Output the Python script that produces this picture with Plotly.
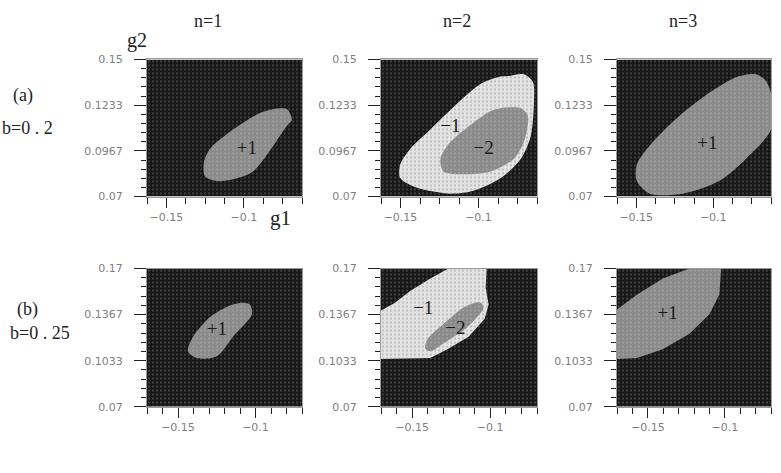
import plotly.graph_objects as go
from plotly.subplots import make_subplots

# axis ranges (g1 horizontal, g2 vertical)
g1_range_a = [-0.1625, -0.0625]
g2_range_a = [0.07, 0.15]
g1_range_b = [-0.17, -0.07]
g2_range_b = [0.07, 0.17]

g2_ticks_a = [0.07, 0.0967, 0.1233, 0.15]
g2_ticktext_a = ["0.07", "0.0967", "0.1233", "0.15"]
g2_ticks_b = [0.07, 0.1033, 0.1367, 0.17]
g2_ticktext_b = ["0.07", "0.1033", "0.1367", "0.17"]
g1_ticks = [-0.15, -0.1]
g1_ticktext = ["\u22120.15", "\u22120.1"]

# row (a) b=0.2, n=1 : region +1
a1_p1_g1 = [-0.0722, -0.0690, -0.0722, -0.0941, -0.1070, -0.1174, -0.1251, -0.1257, -0.1219, -0.1070, -0.0896, -0.0812]
a1_p1_g2 = [0.1210, 0.1148, 0.1114, 0.0847, 0.0802, 0.0791, 0.0819, 0.0904, 0.0978, 0.1091, 0.1188, 0.1210]

# row (a), n=2 : region -1 (outer) and -2 (inner)
a2_m1_g1 = [-0.0812, -0.0709, -0.0651, -0.0645, -0.0664, -0.0728, -0.0857, -0.1032, -0.1180, -0.1393, -0.1502, -0.1502, -0.1438, -0.1309, -0.1135, -0.0986, -0.0877]
a2_m1_g2 = [0.1403, 0.1414, 0.1369, 0.1244, 0.1057, 0.0921, 0.0808, 0.0734, 0.0717, 0.0751, 0.0808, 0.0887, 0.0978, 0.1091, 0.1244, 0.1358, 0.1397]
a2_m2_g1 = [-0.0857, -0.0728, -0.0683, -0.0709, -0.0773, -0.0922, -0.1096, -0.1225, -0.1244, -0.1180, -0.1032, -0.0922]
a2_m2_g2 = [0.1216, 0.1216, 0.1171, 0.1018, 0.0921, 0.0847, 0.0830, 0.0847, 0.0921, 0.1018, 0.1131, 0.1199]

# row (a), n=3 : region +1
a3_p1_g1 = [-0.0722, -0.0658, -0.0625, -0.0625, -0.0787, -0.0961, -0.1199, -0.1412, -0.1496, -0.1496, -0.1393, -0.1199, -0.1006, -0.0851]
a3_p1_g2 = [0.1414, 0.1375, 0.1301, 0.1091, 0.0921, 0.0791, 0.0717, 0.0717, 0.0791, 0.0887, 0.1018, 0.1188, 0.1318, 0.1397]

# row (b) b=0.25, n=1 : region +1
b1_p1_g1 = [-0.1036, -0.1023, -0.1145, -0.1249, -0.1378, -0.1436, -0.1403, -0.1294, -0.1165, -0.1081]
b1_p1_g2 = [0.1439, 0.1369, 0.1207, 0.1066, 0.1052, 0.1101, 0.1207, 0.1348, 0.1432, 0.1453]

# row (b), n=2 : region -1 and -2
b2_m1_g1 = [-0.17, -0.17, -0.1610, -0.1513, -0.1384, -0.1268, -0.1023, -0.1029, -0.1010, -0.1036, -0.1139, -0.1274, -0.1384]
b2_m1_g2 = [0.1045, 0.1397, 0.1453, 0.1538, 0.1629, 0.17, 0.17, 0.1559, 0.1439, 0.1334, 0.1207, 0.1115, 0.1052]
b2_m2_g1 = [-0.1061, -0.1042, -0.1145, -0.1300, -0.1384, -0.1416, -0.1403, -0.1300, -0.1171, -0.1094]
b2_m2_g2 = [0.1453, 0.1418, 0.1277, 0.1158, 0.1101, 0.1122, 0.1186, 0.1298, 0.1418, 0.1453]

# row (b), n=3 : region +1
b3_p1_g1 = [-0.17, -0.17, -0.1571, -0.1403, -0.1229, -0.1023, -0.1036, -0.1100, -0.1229, -0.1403, -0.1571]
b3_p1_g2 = [0.1045, 0.1404, 0.1510, 0.1629, 0.17, 0.17, 0.1510, 0.1369, 0.1228, 0.1115, 0.1052]

# region labels: (text, g1, g2)
a1_labels = [("+1", -0.0980, 0.0978)]
a2_labels = [("\u22121", -0.1180, 0.1103), ("\u22122", -0.0967, 0.0978)]
a3_labels = [("+1", -0.1038, 0.1006)]
b1_labels = [("+1", -0.1249, 0.1256)]
b2_labels = [("\u22121", -0.1429, 0.1404), ("\u22122", -0.1223, 0.1263)]
b3_labels = [("+1", -0.1371, 0.1369)]

MID = dict(shape=".", bgcolor="#8a8a8a", fgcolor="#b0b0b0", size=4, solidity=0.25)
LIGHT = dict(shape=".", bgcolor="#e4e4e4", fgcolor="#9a9a9a", size=4, solidity=0.25)
DARK = dict(shape=".", bgcolor="#161616", fgcolor="#6a6a6a", size=4, solidity=0.25)

fig = make_subplots(rows=2, cols=3)


def region(x, y, pattern, row, col, smooth=True):
    fig.add_trace(go.Scatter(
        x=x + x[:1], y=y + y[:1], mode="lines", fill="toself",
        line=dict(width=0, shape="spline" if smooth else "linear", smoothing=0.8),
        fillcolor=pattern["bgcolor"], fillpattern=pattern,
        hoverinfo="skip", showlegend=False), row=row, col=col)


def background(xr, yr, row, col):
    # dotted black field over the whole axis range
    region([xr[0], xr[1], xr[1], xr[0]], [yr[0], yr[0], yr[1], yr[1]], DARK, row, col, smooth=False)


for c in (1, 2, 3):
    background(g1_range_a, g2_range_a, 1, c)
    background(g1_range_b, g2_range_b, 2, c)

region(a1_p1_g1, a1_p1_g2, MID, 1, 1)
region(a2_m1_g1, a2_m1_g2, LIGHT, 1, 2)
region(a2_m2_g1, a2_m2_g2, MID, 1, 2)
region(a3_p1_g1, a3_p1_g2, MID, 1, 3)
region(b1_p1_g1, b1_p1_g2, MID, 2, 1)
region(b2_m1_g1, b2_m1_g2, LIGHT, 2, 2, smooth=False)
region(b2_m2_g1, b2_m2_g2, MID, 2, 2)
region(b3_p1_g1, b3_p1_g2, MID, 2, 3, smooth=False)

panel_labels = [(a1_labels, 1, 1), (a2_labels, 1, 2), (a3_labels, 1, 3),
                (b1_labels, 2, 1), (b2_labels, 2, 2), (b3_labels, 2, 3)]
for labels, r, c in panel_labels:
    fig.add_trace(go.Scatter(
        x=[l[1] for l in labels], y=[l[2] for l in labels], text=[l[0] for l in labels],
        mode="text", textfont=dict(family="Liberation Serif", size=19, color="#1a1a1a"),
        hoverinfo="skip", showlegend=False), row=r, col=c)

# panel positions in pixels of the 781x473 page
W, H = 781, 473
col_px = [(147, 302), (381, 537), (617, 771)]
row_px = [(55, 196), (270, 412)]

axis_common = dict(
    showgrid=False, zeroline=False, showline=True, linecolor="#9a9a9a", linewidth=1,
    mirror=True, ticks="outside", tickcolor="#222", ticklen=12, tickwidth=1,
    tickfont=dict(family="DejaVu Sans", size=11, color="#808080"),
)

for r in (1, 2):
    for c in (1, 2, 3):
        x0, x1 = col_px[c - 1]
        y0, y1 = row_px[r - 1]
        if r == 1:
            xr, yr, yt, ytt, xminor, yminor = g1_range_a, g2_range_a, g2_ticks_a, g2_ticktext_a, 0.0125, 0.08 / 15
        else:
            xr, yr, yt, ytt, xminor, yminor = g1_range_b, g2_range_b, g2_ticks_b, g2_ticktext_b, 0.01, 0.1 / 15
        fig.update_xaxes(axis_common, range=xr, domain=[x0 / W, x1 / W],
                         tickvals=g1_ticks, ticktext=g1_ticktext, ticklen=10,
                         minor=dict(ticks="outside", ticklen=6, tickcolor="#222", dtick=xminor, tick0=-0.15),
                         row=r, col=c)
        fig.update_yaxes(axis_common, range=yr, domain=[1 - y1 / H, 1 - y0 / H],
                         tickvals=yt, ticktext=ytt, ticklabelstandoff=9,
                         minor=dict(ticks="outside", ticklen=5, tickcolor="#222", dtick=yminor, tick0=0.07),
                         row=r, col=c)

texts = [
    ("n=1", 208, 15, 18), ("n=2", 457, 15, 18), ("n=3", 683, 15, 18),
    ("g2", 137, 35, 20), ("g1", 280, 218, 21),
    ("(a)", 23, 92, 18), ("b=0 . 2", 27, 125, 18),
    ("(b)", 27, 312, 18), ("b=0 . 25", 40, 336, 18),
]
for t, px, py, fs in texts:
    fig.add_annotation(text=t, x=px / W, y=1 - py / H, xref="paper", yref="paper",
                       showarrow=False, font=dict(family="Liberation Serif", size=fs, color="#222"),
                       xanchor="center", yanchor="middle")

fig.update_layout(
    width=W, height=H, margin=dict(l=0, r=0, t=0, b=0),
    paper_bgcolor="white", plot_bgcolor="white", showlegend=False,
)

fig.write_html("out.html", config={"displayModeBar": False},
               post_script="document.body.style.margin='0';")
